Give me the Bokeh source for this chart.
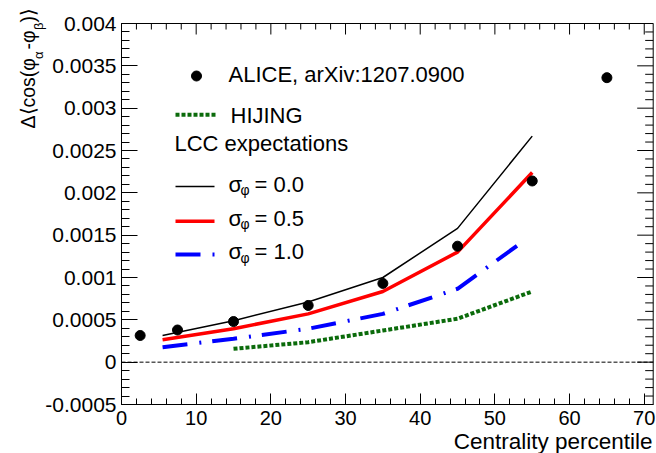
import math
from bokeh.plotting import figure
from bokeh.models import Range1d, LinearAxis, FixedTicker, Label
from bokeh.embed import file_html
from bokeh.resources import INLINE

# ---------------- data ----------------
alice_x = [2.5, 7.5, 15, 25, 35, 45, 55, 65]
alice_y = [0.000315, 0.00038, 0.00048, 0.00067, 0.00093, 0.00137, 0.00214, 0.00336]

lcc_x = [5.5, 15, 25, 35, 45, 55]
lcc_sigma00 = [0.000315, 0.00049, 0.00071, 0.00100, 0.00158, 0.00267]
lcc_sigma05 = [0.000265, 0.000395, 0.00057, 0.000835, 0.00130, 0.00224]
lcc_sigma10_x = [5.5, 15, 25, 35, 45, 54]
lcc_sigma10 = [0.000177, 0.000276, 0.000395, 0.00057, 0.000867, 0.00144]

hijing_x = [15, 25, 35, 45, 55]
hijing_y = [0.000158, 0.000236, 0.000374, 0.000513, 0.000835]

x_ticks = [0, 10, 20, 30, 40, 50, 60, 70]
x_tick_labels = ["0", "10", "20", "30", "40", "50", "60", "70"]
y_ticks = [-0.0005, 0, 0.0005, 0.001, 0.0015, 0.002, 0.0025, 0.003, 0.0035, 0.004]
y_tick_labels = ["-0.0005", "0", "0.0005", "0.001", "0.0015", "0.002", "0.0025",
                 "0.003", "0.0035", "0.004"]
X_MIN, X_MAX = 0.0, 71.2          # axis range of the reference frame
Y_MIN, Y_MAX = -0.0005, 0.004

x_title = "Centrality percentile"
legend_alice = "ALICE, arXiv:1207.0900"
legend_hijing = "HIJING"
legend_lcc = "LCC expectations"
sigma_values = ["0.0", "0.5", "1.0"]

# ---------------- layout (page pixels) ----------------
W, H = 656, 453
FL, FR, FT, FB = 121.0, 652.7, 23.0, 404.0   # frame edges
ppx = (FR - FL) / (X_MAX - X_MIN)
ppy = (FB - FT) / (Y_MAX - Y_MIN)

FONT = "Liberation Sans"
p = figure(width=W, height=H,
           x_range=Range1d(X_MIN - FL / ppx, X_MAX + (W - FR) / ppx),
           y_range=Range1d(Y_MIN - (H - FB) / ppy, Y_MAX + FT / ppy),
           x_axis_location=None, y_axis_location=None,
           output_backend="svg", toolbar_location=None, min_border=0)
p.background_fill_color = "white"
p.border_fill_color = "white"
p.outline_line_color = None
p.grid.visible = False

# helper ranges in page pixels (for legend and titles)
p.extra_x_ranges = {"px": Range1d(0, W)}
p.extra_y_ranges = {"py": Range1d(H, 0)}

x_minor = list(range(0, 71, 2))
y_minor = [round(-0.0005 + i * 0.0001, 4) for i in range(46)]

X_MAJ, X_MIN_T = 11, 6     # tick lengths (px) of x axes
Y_MAJ, Y_MIN_T = 16, 8     # tick lengths (px) of y axes

def style_axis(ax, tick_in, minor_in, size, standoff):
    ax.axis_line_color = "black"
    ax.major_tick_line_color = "black"
    ax.minor_tick_line_color = "black"
    ax.major_tick_in = tick_in
    ax.major_tick_out = 0
    ax.minor_tick_in = minor_in
    ax.minor_tick_out = 0
    ax.major_label_text_font = FONT
    ax.major_label_text_color = "black"
    ax.major_label_text_font_size = size
    ax.major_label_standoff = standoff

xa = LinearAxis(fixed_location=Y_MIN, bounds=(X_MIN, X_MAX),
                ticker=FixedTicker(ticks=x_ticks, minor_ticks=x_minor))
style_axis(xa, X_MAJ, X_MIN_T, "20px", 6)
xa.major_label_overrides = {t: l for t, l in zip(x_ticks, x_tick_labels)}
p.add_layout(xa, "below")

ya = LinearAxis(fixed_location=X_MIN, bounds=(Y_MIN, Y_MAX),
                ticker=FixedTicker(ticks=y_ticks, minor_ticks=y_minor))
style_axis(ya, Y_MAJ, Y_MIN_T, "21px", 5)
ya.major_label_overrides = {t: l for t, l in zip(y_ticks, y_tick_labels)}
p.add_layout(ya, "left")

# mirrored frame sides (top and right) with inward ticks, no labels
p.segment(x0=[X_MIN, X_MAX], y0=[Y_MAX, Y_MIN], x1=[X_MAX, X_MAX], y1=[Y_MAX, Y_MAX],
          line_color="black", line_width=1)
top_len = [(X_MAJ if t in x_ticks else X_MIN_T) / ppy for t in x_minor]
p.segment(x0=x_minor, y0=[Y_MAX] * len(x_minor), x1=x_minor,
          y1=[Y_MAX - l for l in top_len], line_color="black", line_width=1)
y_major_set = set(round(t, 4) for t in y_ticks)
right_len = [(Y_MAJ if round(t, 4) in y_major_set else Y_MIN_T) / ppx for t in y_minor]
p.segment(x0=[X_MAX] * len(y_minor), y0=y_minor, x1=[X_MAX - l for l in right_len],
          y1=y_minor, line_color="black", line_width=1)

# zero line
p.segment(x0=[X_MIN], y0=[0], x1=[X_MAX], y1=[0], line_color="black",
          line_width=1, line_dash="4 2")

# ---------------- data glyphs ----------------
GREEN = "#0b6b0b"
p.line(hijing_x, hijing_y, line_color=GREEN, line_width=4, line_dash="4 2")
p.line(lcc_sigma10_x, lcc_sigma10, line_color="#0000ff", line_width=4, line_dash="25 12 2 11")
p.line(lcc_x, lcc_sigma05, line_color="#ff0000", line_width=3.5)
p.line(lcc_x, lcc_sigma00, line_color="black", line_width=1.5)
p.scatter(alice_x, alice_y, size=10, color="black")

# ---------------- legend and titles (page-pixel positions) ----------------
def lab(x, y, text, size, angle=0.0, align="left"):
    p.add_layout(Label(x=x, y=y, x_range_name="px", y_range_name="py", text=text,
                       text_font=FONT, text_font_size=f"{size}px", angle=angle,
                       text_align=align, text_baseline="middle", text_color="black"))

p.scatter([196], [75.5], size=10, color="black", x_range_name="px", y_range_name="py")
lab(228, 73.7, legend_alice, 22)
p.line([175, 215], [114.3, 114.3], line_color=GREEN, line_width=4, line_dash="4 2",
       x_range_name="px", y_range_name="py")
lab(230, 114.5, legend_hijing, 22)
lab(174, 143, legend_lcc, 22)

rows = [(186, 183.7, dict(line_color="black", line_width=1.5)),
        (220.7, 217.5, dict(line_color="#ff0000", line_width=3.5)),
        (254, 251, dict(line_color="#0000ff", line_width=4, line_dash="25 12 2 11"))]
for (ly, ty, st), sv in zip(rows, sigma_values):
    p.line([175, 214], [ly, ly], x_range_name="px", y_range_name="py", **st)
    lab(228, ty, "σ", 22)
    lab(240, ty + 6, "φ", 14)
    lab(254, ty, "= " + sv, 22)

# x title
lab(652, 441, x_title, 22.5, align="right")

# y title, rotated, composed with subscripts
R = math.pi / 2
lab(27.5, 128, "Δ⟨cos(φ", 19.5, angle=R)
lab(38, 58.5, "α", 13, angle=R)
lab(27.5, 49, "-φ", 19.5, angle=R)
lab(38, 29.5, "β", 13, angle=R)
lab(27.5, 22, ")⟩", 19.5, angle=R)

open("out.html", "w").write(file_html(p, INLINE))
